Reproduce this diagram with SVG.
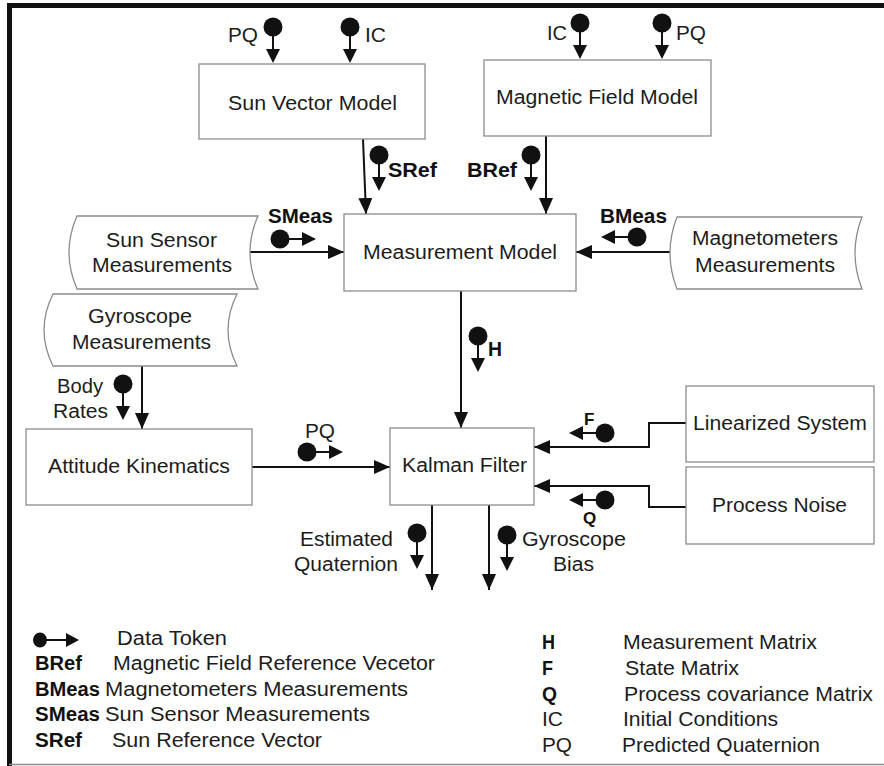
<svg xmlns="http://www.w3.org/2000/svg" xmlns:xlink="http://www.w3.org/1999/xlink" width="884" height="766" viewBox="0 0 884 766">
  <style>
    .t { font-family: "Liberation Sans", Arial, sans-serif; font-size: 20px; fill: #1c1c1c; }
    .b { font-family: "Liberation Sans", Arial, sans-serif; font-size: 20px; font-weight: bold; fill: #111; }
    .box { fill: #fff; stroke: #8c8c8c; stroke-width: 1.3; }
    .wire { fill: none; stroke: #111; stroke-width: 2; }
  </style>
  <defs>
    <marker id="ah" viewBox="0 0 16 14" markerWidth="16" markerHeight="14" refX="16" refY="7" orient="auto" markerUnits="userSpaceOnUse">
      <path d="M0,0 L16,7 L0,14 z" fill="#111"/>
    </marker>
    <!-- data token pointing down: dot, short stem, arrowhead -->
    <g id="tok">
      <circle cx="0" cy="0" r="9.5" fill="#111"/>
      <line x1="0" y1="8" x2="0" y2="24" stroke="#111" stroke-width="2"/>
      <path d="M-7,22 L7,22 L0,36 z" fill="#111"/>
    </g>
  </defs>

  <rect width="884" height="766" fill="#fff"/>
  <!-- frame -->
  <line x1="9" y1="5.5" x2="884" y2="5.5" stroke="#111" stroke-width="5"/>
  <line x1="9.5" y1="3" x2="9.5" y2="766" stroke="#111" stroke-width="5"/>
  <line x1="9" y1="764.5" x2="884" y2="764.5" stroke="#8c8c8c" stroke-width="1.5"/>

  <!-- connectors -->
  <g id="connectors">
    <path class="wire" d="M363,139 L366,214" marker-end="url(#ah)"/>
    <path class="wire" d="M546,136 L546,214" marker-end="url(#ah)"/>
    <path class="wire" d="M248,252 L344,252" marker-end="url(#ah)"/>
    <path class="wire" d="M670,252 L576,252" marker-end="url(#ah)"/>
    <path class="wire" d="M461,291 L461,428" marker-end="url(#ah)"/>
    <path class="wire" d="M142,366 L142,429" marker-end="url(#ah)"/>
    <path class="wire" d="M252,467 L390,467" marker-end="url(#ah)"/>
    <path class="wire" d="M686,423 H649 V447 H534" marker-end="url(#ah)"/>
    <path class="wire" d="M686,507 H649 V486 H534" marker-end="url(#ah)"/>
    <path class="wire" d="M432,505 L432,590" marker-end="url(#ah)"/>
    <path class="wire" d="M489,505 L489,590" marker-end="url(#ah)"/>
  </g>

  <!-- data tokens on the connectors -->
  <g id="tokens">
    <use href="#tok" transform="translate(273,27)"/>
    <use href="#tok" transform="translate(350,27)"/>
    <use href="#tok" transform="translate(580,23)"/>
    <use href="#tok" transform="translate(662,23)"/>
    <use href="#tok" transform="translate(379,155)"/>
    <use href="#tok" transform="translate(531,155)"/>
    <use href="#tok" transform="translate(478,336)"/>
    <use href="#tok" transform="translate(123,384)"/>
    <use href="#tok" transform="translate(417,533)"/>
    <use href="#tok" transform="translate(507,535)"/>
    <use href="#tok" transform="translate(280,239) rotate(-90)"/>
    <use href="#tok" transform="translate(307,452) rotate(-90)"/>
    <use href="#tok" transform="translate(637,237) rotate(90)"/>
    <use href="#tok" transform="translate(605,433) rotate(90)"/>
    <use href="#tok" transform="translate(605,500) rotate(90)"/>
  </g>

  <!-- token labels -->
  <g id="labels">
    <text class="t" x="228" y="42" textLength="30" lengthAdjust="spacingAndGlyphs">PQ</text>
    <text class="t" x="365" y="42" textLength="21" lengthAdjust="spacingAndGlyphs">IC</text>
    <text class="t" x="547" y="40" textLength="20" lengthAdjust="spacingAndGlyphs">IC</text>
    <text class="t" x="676" y="40" textLength="30" lengthAdjust="spacingAndGlyphs">PQ</text>
    <text class="b" x="388" y="177" textLength="49" lengthAdjust="spacingAndGlyphs">SRef</text>
    <text class="b" x="467" y="177" textLength="50" lengthAdjust="spacingAndGlyphs">BRef</text>
    <text class="b" x="268" y="223" textLength="65" lengthAdjust="spacingAndGlyphs">SMeas</text>
    <text class="b" x="600" y="223" textLength="67" lengthAdjust="spacingAndGlyphs">BMeas</text>
    <text class="b" x="488" y="356" textLength="14" lengthAdjust="spacingAndGlyphs">H</text>
    <text class="t" x="57" y="393" textLength="46" lengthAdjust="spacingAndGlyphs">Body</text>
    <text class="t" x="53" y="418" textLength="55" lengthAdjust="spacingAndGlyphs">Rates</text>
    <text class="t" x="305" y="438" textLength="30" lengthAdjust="spacingAndGlyphs">PQ</text>
    <text class="b" x="584" y="425" style="font-size:17px">F</text>
    <text class="b" x="583" y="524" style="font-size:17px">Q</text>
    <text class="t" x="300" y="546" textLength="93" lengthAdjust="spacingAndGlyphs">Estimated</text>
    <text class="t" x="294" y="571" textLength="104" lengthAdjust="spacingAndGlyphs">Quaternion</text>
    <text class="t" x="522" y="546" textLength="104" lengthAdjust="spacingAndGlyphs">Gyroscope</text>
    <text class="t" x="553" y="571" textLength="41" lengthAdjust="spacingAndGlyphs">Bias</text>
  </g>

  <g id="sun-vector-model">
    <rect class="box" x="199" y="64" width="226" height="75"/>
    <text class="t" x="228" y="110" textLength="169" lengthAdjust="spacingAndGlyphs">Sun Vector Model</text>
  </g>
  <g id="magnetic-field-model">
    <rect class="box" x="484" y="60" width="227" height="76"/>
    <text class="t" x="496" y="104" textLength="202" lengthAdjust="spacingAndGlyphs">Magnetic Field Model</text>
  </g>
  <g id="sun-sensor">
    <path class="box" d="M77,216 H258 Q242,252 258,289 H77 Q61,252 77,216 z"/>
    <text class="t" x="106" y="247" textLength="111" lengthAdjust="spacingAndGlyphs">Sun Sensor</text>
    <text class="t" x="92" y="272" textLength="140" lengthAdjust="spacingAndGlyphs">Measurements</text>
  </g>
  <g id="measurement-model">
    <rect class="box" x="344" y="214" width="232" height="77"/>
    <text class="t" x="363" y="259" textLength="194" lengthAdjust="spacingAndGlyphs">Measurement Model</text>
  </g>
  <g id="magnetometers">
    <path class="box" d="M677,217 H862 Q848,253 862,289 H677 Q663,253 677,217 z"/>
    <text class="t" x="692" y="245" textLength="146" lengthAdjust="spacingAndGlyphs">Magnetometers</text>
    <text class="t" x="695" y="272" textLength="140" lengthAdjust="spacingAndGlyphs">Measurements</text>
  </g>
  <g id="gyroscope">
    <path class="box" d="M53,294 H237 Q219,330 237,366 H53 Q35,330 53,294 z"/>
    <text class="t" x="88" y="323" textLength="104" lengthAdjust="spacingAndGlyphs">Gyroscope</text>
    <text class="t" x="72" y="349" textLength="139" lengthAdjust="spacingAndGlyphs">Measurements</text>
  </g>
  <g id="attitude-kinematics">
    <rect class="box" x="26" y="429" width="226" height="76"/>
    <text class="t" x="48" y="473" textLength="182" lengthAdjust="spacingAndGlyphs">Attitude Kinematics</text>
  </g>
  <g id="kalman-filter">
    <rect class="box" x="390" y="428" width="144" height="77"/>
    <text class="t" x="402" y="472" textLength="125" lengthAdjust="spacingAndGlyphs">Kalman Filter</text>
  </g>
  <g id="linearized-system">
    <rect class="box" x="686" y="386" width="188" height="76"/>
    <text class="t" x="693" y="430" textLength="174" lengthAdjust="spacingAndGlyphs">Linearized System</text>
  </g>
  <g id="process-noise">
    <rect class="box" x="686" y="467" width="188" height="77"/>
    <text class="t" x="712" y="512" textLength="135" lengthAdjust="spacingAndGlyphs">Process Noise</text>
  </g>

  <!-- legend -->
  <g id="legend">
    <ellipse cx="40" cy="640" rx="7" ry="7.5" fill="#111"/>
    <line x1="44" y1="640" x2="70" y2="640" stroke="#111" stroke-width="2"/>
    <path d="M66,633 L79,640 L66,647 z" fill="#111"/>
    <text class="t" x="117" y="645" textLength="110" lengthAdjust="spacingAndGlyphs">Data Token</text>
    <text class="b" x="35" y="670" textLength="47" lengthAdjust="spacingAndGlyphs">BRef</text>
    <text class="t" x="113" y="670" textLength="322" lengthAdjust="spacingAndGlyphs">Magnetic Field Reference Vecetor</text>
    <text class="b" x="35" y="696" textLength="65" lengthAdjust="spacingAndGlyphs">BMeas</text>
    <text class="t" x="105" y="696" textLength="303" lengthAdjust="spacingAndGlyphs">Magnetometers Measurements</text>
    <text class="b" x="35" y="721" textLength="65" lengthAdjust="spacingAndGlyphs">SMeas</text>
    <text class="t" x="105" y="721" textLength="265" lengthAdjust="spacingAndGlyphs">Sun Sensor Measurements</text>
    <text class="b" x="35" y="747" textLength="47" lengthAdjust="spacingAndGlyphs">SRef</text>
    <text class="t" x="112" y="747" textLength="210" lengthAdjust="spacingAndGlyphs">Sun Reference Vector</text>

    <text class="b" x="542" y="649" textLength="13" lengthAdjust="spacingAndGlyphs">H</text>
    <text class="t" x="623" y="649" textLength="194" lengthAdjust="spacingAndGlyphs">Measurement Matrix</text>
    <text class="b" x="542" y="675" textLength="11" lengthAdjust="spacingAndGlyphs">F</text>
    <text class="t" x="625" y="675" textLength="114" lengthAdjust="spacingAndGlyphs">State Matrix</text>
    <text class="b" x="542" y="701" textLength="15" lengthAdjust="spacingAndGlyphs">Q</text>
    <text class="t" x="624" y="701" textLength="249" lengthAdjust="spacingAndGlyphs">Process covariance Matrix</text>
    <text class="t" x="542" y="726" textLength="21" lengthAdjust="spacingAndGlyphs">IC</text>
    <text class="t" x="623" y="726" textLength="155" lengthAdjust="spacingAndGlyphs">Initial Conditions</text>
    <text class="t" x="542" y="752" textLength="30" lengthAdjust="spacingAndGlyphs">PQ</text>
    <text class="t" x="622" y="752" textLength="198" lengthAdjust="spacingAndGlyphs">Predicted Quaternion</text>
  </g>
</svg>
